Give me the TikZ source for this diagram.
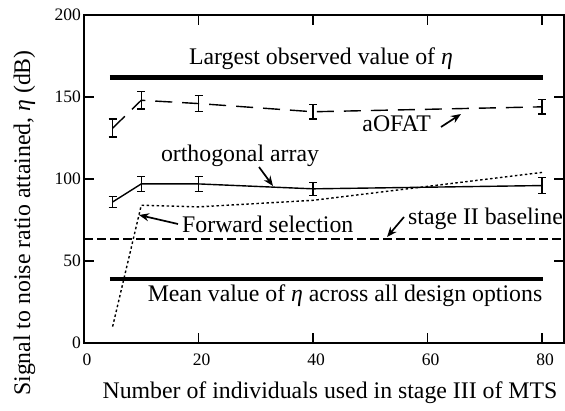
\documentclass[tikz,border=0pt]{standalone}
\usepackage{fontspec}
\setmainfont{Liberation Serif}
\newfontfamily\plotfont{Liberation Serif}
\usetikzlibrary{arrows.meta}
\begin{document}
\begin{tikzpicture}[x=1pt,y=1pt,
  lbl/.style={font=\plotfont\fontsize{23.8}{28}\selectfont, inner sep=0pt},
  ticklbl/.style={font=\plotfont\fontsize{17.5}{20}\selectfont, inner sep=0pt},
  axisline/.style={line width=1.5pt},
  boundline/.style={line width=4.5pt},
  aofat/.style={line width=1.4pt, dash pattern=on 17pt off 10pt},
  ortho/.style={line width=1.4pt},
  fwd/.style={line width=1.4pt, dash pattern=on 2.5pt off 2.5pt},
  baseln/.style={line width=1.4pt, dash pattern=on 9pt off 4pt},
  ptr/.style={line width=1.7pt, -{Stealth[length=10pt,width=8pt]}},
  ebar/.style={line width=1.4pt}]
\useasboundingbox (0,0) rectangle (565,410);

% ---------- data frame: x = individuals, y = eta (dB)
\begin{scope}[shift={(84pt,67pt)}, x=5.725pt, y=1.64pt]
  % axes box and inward ticks
  \draw[axisline] (0,0) rectangle (83.8,200);
  \foreach \v in {50,100,150} {
    \draw[axisline] (0,\v) -- ++(10pt,0);
    \draw[axisline] (83.8,\v) -- ++(-10pt,0);
  }
  \foreach \u in {20,40,60,80} {
    \draw[axisline] (\u,0) -- ++(0,10pt);
    \draw[axisline] (\u,200) -- ++(0,-10pt);
  }
  \foreach \v in {0,50,100,150,200}
    \node[ticklbl, anchor=east] at ([xshift=-3pt]0,\v) {\v};
  \foreach \u in {0,20,40,60,80}
    \node[ticklbl] at ([xshift=3pt,yshift=-17pt]\u,0) {\u};

  % reference levels
  \coordinate (hiL) at (4.5,162);  \coordinate (hiR) at (80.2,162);
  \coordinate (loL) at (4.5,39);   \coordinate (loR) at (80.2,39);
  \coordinate (bsL) at (0,63.5);   \coordinate (bsR) at (83.8,63.5);
  \draw[boundline] (hiL) -- (hiR);
  \draw[boundline] (loL) -- (loR);
  \draw[baseln] (bsL) -- (bsR);

  % aOFAT series
  \coordinate (ao1) at (5,131);  \coordinate (ao2) at (10,148);
  \coordinate (ao3) at (20,146); \coordinate (ao4) at (40,141);
  \coordinate (ao5) at (80,144);
  \draw[aofat] (ao1) -- (ao2) -- (ao3) -- (ao4) -- (ao5);
  \foreach \x/\y/\e in {5/131/5.5,10/148/5.2,20/146/5,40/141/4.3,80/144/4.3} {
    \draw[ebar] (\x,{\y-\e}) -- (\x,{\y+\e});
    \draw[ebar] ([xshift=-4pt]\x,{\y-\e}) -- ([xshift=4pt]\x,{\y-\e});
    \draw[ebar] ([xshift=-4pt]\x,{\y+\e}) -- ([xshift=4pt]\x,{\y+\e});
  }

  % orthogonal array series
  \coordinate (oa1) at (5,86);  \coordinate (oa2) at (10,97);
  \coordinate (oa3) at (20,97); \coordinate (oa4) at (40,94);
  \coordinate (oa5) at (80,96);
  \draw[ortho] (oa1) -- (oa2) -- (oa3) -- (oa4) -- (oa5);
  \foreach \x/\y/\e in {5/86/3.4,10/97/4.5,20/97/4.5,40/94/4,80/96/5} {
    \draw[ebar] (\x,{\y-\e}) -- (\x,{\y+\e});
    \draw[ebar] ([xshift=-4pt]\x,{\y-\e}) -- ([xshift=4pt]\x,{\y-\e});
    \draw[ebar] ([xshift=-4pt]\x,{\y+\e}) -- ([xshift=4pt]\x,{\y+\e});
  }

  % forward selection series
  \coordinate (fs1) at (5,10);  \coordinate (fs2) at (10,84);
  \coordinate (fs3) at (20,83); \coordinate (fs4) at (40,87);
  \coordinate (fs5) at (80,104);
  \draw[fwd] (fs1) -- (fs2) -- (fs3) -- (fs4) -- (fs5);
\end{scope}

% ---------- labels
\node[lbl, anchor=base] (tHi) at (321,345) {Largest observed value of \textit{η}};
\node[lbl, anchor=base] (tLo) at (345,108) {Mean value of \textit{η} across all design options};
\node[lbl, anchor=base] (tOA) at (240,248) {orthogonal array};
\node[lbl, anchor=base east] (tAO) at (431,278) {aOFAT};
\node[lbl, anchor=base west] (tFS) at (182,177) {Forward selection};
\node[lbl, anchor=base east] (tBS) at (563,185) {stage II baseline};
\node[lbl, anchor=base] (xlab) at (330,12) {Number of individuals used in stage III of MTS};
\node[lbl, anchor=base, rotate=90] (ylab) at (30,187) {Signal to noise ratio attained, \textit{η} (dB)};

% ---------- pointers from labels to curves
\coordinate (pAOa) at (441,283); \coordinate (pAOb) at (461,296);
\coordinate (pOAa) at (259,243); \coordinate (pOAb) at (273,224);
\coordinate (pFSa) at (178,186); \coordinate (pFSb) at (139,195);
\coordinate (pBSa) at (404,193); \coordinate (pBSb) at (387,173);
\draw[ptr] (pAOa) -- (pAOb);
\draw[ptr] (pOAa) -- (pOAb);
\draw[ptr] (pFSa) -- (pFSb);
\draw[ptr] (pBSa) -- (pBSb);
\end{tikzpicture}
\end{document}
